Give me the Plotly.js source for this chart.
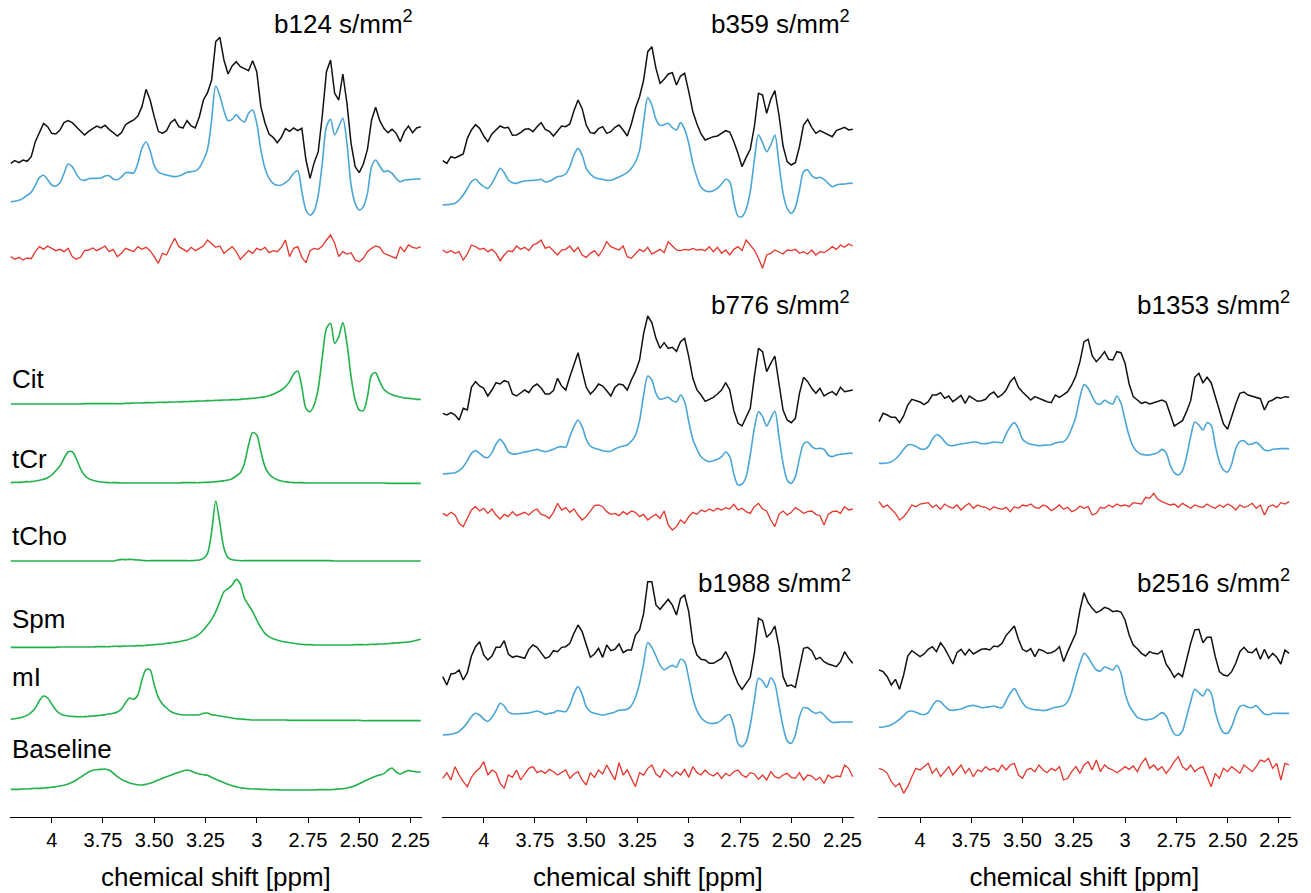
<!DOCTYPE html>
<html>
<head>
<meta charset="utf-8">
<script src="https://cdn.plot.ly/plotly-3.0.1.min.js"></script>
<style>html,body{margin:0;padding:0;background:#fff}#chart{width:1311px;height:893px}</style>
</head>
<body>
<div id="chart"></div>
<script>
// chemical shift grid [ppm]
const ppm = [4.2,4.18,4.16,4.14,4.12,4.1,4.08,4.06,4.04,4.02,
4,3.98,3.96,3.94,3.92,3.9,3.88,3.86,3.84,3.82,
3.8,3.78,3.76,3.74,3.72,3.7,3.68,3.66,3.64,3.62,
3.6,3.58,3.56,3.54,3.52,3.5,3.48,3.46,3.44,3.42,
3.4,3.38,3.36,3.34,3.32,3.3,3.28,3.26,3.24,3.22,
3.2,3.18,3.16,3.14,3.12,3.1,3.08,3.06,3.04,3.02,
3,2.98,2.96,2.94,2.92,2.9,2.88,2.86,2.84,2.82,
2.8,2.78,2.76,2.74,2.72,2.7,2.68,2.66,2.64,2.62,
2.6,2.58,2.56,2.54,2.52,2.5,2.48,2.46,2.44,2.42,
2.4,2.38,2.36,2.34,2.32,2.3,2.28,2.26,2.24,2.22,
2.2];

const tickVals = [4,3.75,3.5,3.25,3,2.75,2.5,2.25];
const tickText = ['4','3.75','3.50','3.25','3','2.75','2.50','2.25'];
const axisTitle = 'chemical shift [ppm]';

// ---- b124 ----
const b124_data = [50,58,52,60,56,70,115,145,170,160,
140,138,150,172,178,172,158,147,135,146,
154,162,156,164,152,142,132,142,166,174,
180,192,220,272,240,190,146,140,148,172,
182,160,156,178,162,156,190,240,262,300,
415,428,360,318,342,355,340,334,328,358,
325,220,172,138,128,112,128,154,146,156,
148,155,60,5,52,85,195,325,360,260,
240,318,230,110,40,22,48,92,180,218,
178,155,142,152,140,115,145,162,142,156,
160];
const b124_fit = [45,46,49,55,64,73,94,117,124,111,
95,92,102,130,158,150,128,112,109,114,
115,115,116,122,123,113,111,119,132,132,
131,160,205,224,198,153,134,128,125,122,
120,122,127,133,135,137,147,170,202,290,
392,363,318,288,292,306,292,284,310,320,
280,200,145,115,100,94,95,102,113,130,
138,75,20,5,17,65,162,270,292,245,
270,295,220,95,40,20,30,70,150,170,
152,135,138,130,115,105,110,111,112,113,
113];
const b124_res = [30,22,28,20,26,24,45,60,52,62,
55,48,52,45,55,30,22,28,48,50,
56,48,55,62,45,52,30,40,55,50,
45,60,52,58,48,30,10,40,35,62,
85,60,52,45,58,48,55,62,80,68,
58,62,40,50,60,45,22,35,48,40,
55,50,58,42,48,45,58,80,30,55,
60,28,12,48,55,52,62,80,95,70,
30,45,38,42,20,15,25,45,55,62,
58,40,35,30,25,60,45,65,58,55,
60];

// ---- b359 ----
const b359_data = [28,20,40,36,42,48,95,120,136,125,
102,85,108,120,132,126,128,104,105,112,
122,124,115,130,142,122,116,102,118,132,
130,138,178,210,184,135,112,110,124,130,
110,115,128,135,120,102,138,185,220,270,
355,370,305,260,272,288,292,255,282,290,
235,175,138,108,90,95,100,102,110,118,
114,85,50,10,38,62,130,230,225,170,
212,238,165,72,25,15,22,70,135,152,
128,110,118,112,105,100,118,122,128,120,
122];
const b359_fit = [45,46,47,50,60,75,95,115,122,110,
100,95,110,133,155,142,120,112,110,114,
117,118,119,120,122,114,116,123,130,132,
138,160,195,215,195,155,138,128,124,122,
119,119,124,129,135,142,155,174,208,295,
367,345,302,284,286,290,277,270,292,272,
230,170,128,98,88,85,88,95,108,122,
115,55,12,10,32,85,180,255,232,205,
225,255,170,80,35,20,38,90,145,150,
133,125,128,122,110,100,105,107,108,110,
110];
const b359_res = [60,52,58,50,55,30,48,75,70,62,
65,55,62,50,28,45,58,55,72,62,
68,58,75,80,90,65,70,58,45,60,
62,72,55,68,45,38,50,58,42,60,
85,70,65,60,72,40,35,50,62,55,
68,48,55,62,52,85,72,60,58,62,
60,65,60,62,58,70,55,68,50,60,
45,62,70,58,90,75,60,35,5,45,
50,60,55,48,60,58,62,50,55,48,
60,45,55,52,60,70,62,75,68,78,
72];

// ---- b776 ----
const b776_data = [45,40,47,40,25,60,55,123,140,127,
120,97,115,137,133,143,139,103,97,107,
115,107,125,133,121,103,103,113,150,127,
115,155,190,227,173,123,103,115,133,127,
113,97,123,133,130,115,145,170,205,285,
337,317,270,240,257,240,243,231,260,270,
215,150,115,100,81,87,93,103,115,137,
115,53,15,7,35,60,155,240,230,170,
195,217,135,55,25,17,30,105,153,140,
120,105,120,97,105,110,100,123,110,113,
115];
const b776_fit = [38,39,40,42,48,60,78,100,108,100,
90,87,102,128,142,128,105,98,98,101,
104,106,109,112,108,105,108,112,118,120,
118,150,180,200,180,142,122,115,112,108,
106,106,113,118,122,125,136,154,198,275,
332,320,280,262,265,268,258,254,275,255,
195,142,112,90,80,75,78,82,90,104,
90,38,5,8,30,95,175,225,210,182,
205,226,150,70,20,10,30,85,128,134,
120,114,115,112,95,90,95,97,99,100,
100];
const b776_res = [65,58,68,60,35,25,50,75,85,72,
80,65,78,60,48,62,55,70,58,62,
68,60,72,78,62,58,50,68,95,75,
82,68,78,60,45,55,72,88,90,85,
70,62,65,58,70,62,72,68,55,62,
45,55,62,50,72,30,15,25,45,35,
55,68,62,75,70,78,72,80,75,82,
78,92,75,80,70,65,85,95,78,72,
45,25,62,72,60,68,82,75,65,70,
72,62,58,30,62,70,72,65,85,75,
78];

// ---- b1353 ----
const b1353_data = [30,55,50,43,43,27,47,80,97,93,
89,81,90,110,110,117,100,107,90,99,
109,85,107,99,91,93,97,112,119,103,
111,125,150,163,133,119,107,95,105,99,
95,90,87,110,103,111,120,140,167,210,
270,277,227,210,223,240,217,215,240,237,
205,143,105,95,85,89,83,87,90,95,
89,50,17,25,33,60,93,163,175,147,
163,147,105,65,23,7,47,83,115,119,
110,107,103,99,65,90,95,103,100,105,
103];
const b1353_fit = [40,40,41,45,53,66,82,95,96,91,
84,82,90,112,126,120,105,94,93,96,
98,100,102,104,103,99,99,101,104,103,
102,128,150,162,144,112,102,97,95,93,
94,95,96,101,104,105,118,145,180,238,
276,265,240,220,218,229,222,218,242,220,
170,122,90,74,67,65,65,68,72,82,
72,35,12,5,18,60,120,164,155,140,
162,154,95,45,20,14,38,85,105,108,
97,98,103,93,80,78,82,83,84,84,
84];
const b1353_res = [65,48,55,42,30,10,20,35,55,50,
58,60,62,48,55,42,58,50,45,55,
40,52,60,45,55,50,48,40,50,45,
42,48,35,50,45,55,52,58,48,45,
55,50,38,45,55,42,48,35,40,52,
45,50,25,30,48,45,55,48,58,52,
55,50,62,60,58,78,75,90,72,65,
60,55,58,48,60,52,45,55,50,48,
58,50,45,55,48,58,52,40,55,48,
52,60,45,55,25,50,55,48,62,58,
65];

// ---- b1988 ----
const b1988_data = [45,20,53,55,65,35,57,107,135,150,
110,95,107,133,133,153,113,103,107,103,
100,127,140,133,115,100,105,123,120,133,
135,145,175,200,180,140,103,113,130,103,
140,123,127,143,117,125,125,170,185,235,
330,330,260,247,261,277,260,230,280,290,
240,147,110,97,95,85,85,93,100,120,
95,55,25,7,27,43,115,220,213,163,
175,197,135,45,17,20,13,75,130,133,
123,97,103,90,83,79,75,90,120,100,
85];
const b1988_fit = [40,41,42,45,51,62,77,95,105,100,
88,81,93,113,135,127,109,104,103,104,
105,106,109,112,108,102,105,107,113,111,
110,130,165,185,162,125,110,105,102,100,
102,105,109,114,115,117,128,153,195,255,
317,303,277,250,235,243,249,243,267,260,
210,150,113,92,81,75,75,77,85,97,
101,67,15,5,20,70,145,210,202,183,
211,193,130,65,23,15,40,95,122,120,
111,105,109,100,87,78,78,79,79,79,
79];
const b1988_res = [45,62,40,80,55,35,20,48,65,75,
95,55,70,62,30,15,55,48,70,40,
58,75,80,62,68,60,72,65,55,62,
70,45,58,65,40,25,62,48,70,58,
85,62,40,92,55,70,45,20,62,55,
75,85,58,48,72,60,50,65,55,72,
48,80,62,55,70,58,52,62,45,60,
52,65,70,55,48,62,58,42,55,40,
65,50,45,55,60,48,45,62,40,55,
52,40,48,30,55,45,52,50,85,75,
50];

// ---- b2516 ----
const b2516_data = [65,60,45,20,37,7,50,107,123,113,
105,113,127,135,120,147,130,107,83,117,
127,110,127,113,119,127,129,125,137,135,
145,169,183,197,157,127,120,129,105,127,
123,115,117,123,135,90,120,145,175,245,
297,267,250,237,243,253,249,240,243,239,
215,170,140,129,115,107,120,115,113,123,
83,65,43,55,45,95,145,185,187,147,
163,163,105,60,50,47,60,85,120,133,
119,117,129,97,127,100,115,103,83,125,
115];
const b2516_fit = [28,29,31,36,43,52,63,75,77,73,
68,66,72,92,107,105,92,81,79,81,
83,88,92,94,91,87,88,90,92,88,
87,108,130,144,124,102,88,84,81,80,
78,80,84,88,90,93,105,135,180,220,
250,238,217,200,197,209,205,200,214,190,
130,94,74,58,53,50,52,55,64,72,
63,33,8,4,17,60,105,142,132,122,
142,130,75,35,12,10,30,65,90,94,
88,87,93,80,68,66,70,70,70,70,
70];
const b2516_res = [85,80,70,45,30,40,10,30,60,85,
80,90,100,70,85,60,75,90,65,80,
95,70,85,60,80,75,90,80,85,75,
95,80,95,100,65,55,80,85,75,95,
80,72,85,78,90,50,55,75,90,70,
95,105,80,110,75,95,85,80,72,80,
90,82,92,75,100,115,85,95,80,90,
70,85,105,120,90,80,95,75,85,90,
60,30,70,55,85,75,90,80,70,95,
85,75,90,110,105,115,85,100,50,100,
95];

// ---- basis functions ----
const basisNames = ['Cit','tCr','tCho','Spm','mI','Baseline'];
const cit = [28,28,28,28,28,28,28,28,28,28,
28,28,28,28,28,28,28,28,29,29,
29,29,29,29,29,29,29,29,30,30,
31,31,31,32,32,32,33,33,33,34,
34,34,35,35,36,36,37,37,38,38,
39,39,40,40,41,41,42,43,44,45,
46,48,50,53,57,63,70,80,95,118,
127,78,15,5,25,75,170,255,270,210,
230,272,210,110,40,10,8,50,115,122,
95,72,62,56,52,49,46,45,44,42,
42];
const tcr = [2,3,3,4,5,5,7,9,12,17,
25,38,52,75,94,95,74,44,24,14,
9,6,4,3,2,2,2,1,1,1,
1,1,1,1,1,1,1,1,1,1,
1,1,2,2,2,2,2,3,3,4,
5,6,8,10,14,22,32,60,115,152,
145,95,50,28,17,11,7,5,3,2,
2,2,1,1,1,1,1,1,1,1,
1,1,1,1,1,1,1,1,1,1,
1,1,0,0,0,0,0,0,0,0,
0];
const tcho = [2,2,2,2,2,2,2,2,2,2,
2,2,2,2,2,2,2,2,2,2,
2,2,2,2,2,2,5,7,6,7,
6,5,4,3,3,3,3,3,3,3,
3,3,3,3,3,4,5,10,25,90,
182,115,40,12,6,4,3,3,3,3,
3,3,3,3,3,3,3,3,3,3,
3,3,3,3,3,3,3,3,3,2,
2,2,2,2,2,2,2,2,2,2,
2,2,2,2,2,2,2,2,2,2,
2];
const spm = [3,3,3,3,3,3,3,3,3,3,
3,3,4,4,4,4,4,4,4,4,
4,5,5,5,5,6,6,6,7,7,
7,8,8,9,10,11,12,13,15,16,
18,20,23,25,30,35,43,55,70,87,
110,140,170,179,190,207,193,150,130,110,
85,62,45,35,29,25,21,19,17,15,
13,12,11,11,10,10,10,10,10,10,
10,10,10,10,11,11,11,11,12,12,
13,13,14,15,16,17,18,19,21,24,
27];
const mi = [7,9,11,14,19,28,41,63,77,71,
53,35,24,19,17,16,15,15,15,16,
17,18,19,21,23,25,29,38,57,71,
67,80,125,157,155,110,73,53,41,31,
25,22,20,20,20,20,21,25,26,21,
19,17,15,13,11,9,8,7,6,5,
5,5,5,5,5,5,5,5,4,4,
4,4,4,4,4,4,4,4,4,4,
4,4,4,4,4,4,3,3,3,3,
3,3,3,3,3,3,3,3,3,3,
3];
const baseline = [4,4,4,5,5,6,7,7,8,9,
10,12,14,16,20,25,32,40,48,56,
61,63,64,65,61,53,42,34,28,23,
20,18,17,19,22,27,32,37,42,46,
51,55,59,62,59,54,50,48,46,40,
34,29,24,19,15,12,9,7,6,5,
5,4,4,3,3,3,2,2,2,2,
2,2,2,2,2,3,3,3,3,4,
5,6,8,11,15,21,27,33,38,43,
47,51,62,68,56,50,56,60,58,56,
56];

// ---------------- drawing ----------------
const C = {data:'#111111', fit:'#4aa6d8', res:'#e8352b', basis:'#22b24c'};
const traces = [];
function add(xa, vals, off, color, width, smooth){
  traces.push({
    type:'scatter', mode:'lines', x:ppm, y:vals.map(v => v + off),
    xaxis:xa, yaxis:'y', hoverinfo:'skip', showlegend:false,
    line:{color:color, width:width, shape: smooth ? 'spline' : 'linear', smoothing:0.8}
  });
}
function panel(xa, d, f, r, offs){
  add(xa, d, offs[0], C.data, 1.5, false);
  add(xa, f, offs[1], C.fit, 1.6, true);
  add(xa, r, offs[2], C.res, 1.3, false);
}
panel('x',  b124_data,  b124_fit,  b124_res,  [1911,1801,1651]);
panel('x2', b359_data,  b359_fit,  b359_res,  [1941,1791,1641]);
panel('x2', b776_data,  b776_fit,  b776_res,  [1166,991,846]);
panel('x2', b1988_data, b1988_fit, b1988_res, [376,206,71]);
panel('x3', b1353_data, b1353_fit, b1353_res, [1156,1021,881]);
panel('x3', b2516_data, b2516_fit, b2516_res, [376,241,61]);
const basisSets = [cit, tcr, tcho, spm, mi, baseline];
const basisOff = [1211,1001,766,506,286,79];
basisSets.forEach((b,k) => add('x', b, basisOff[k], C.basis, 1.6, true));

const FONT = 'Liberation Sans, Arial, Helvetica, sans-serif';
function xax(dom){
  return {
    domain:dom, range:[4.205,2.193], anchor:'y',
    showline:true, linecolor:'#000', linewidth:1,
    ticks:'outside', ticklen:5, tickwidth:1, tickcolor:'#000',
    tickvals:tickVals, ticktext:tickText,
    tickfont:{family:FONT, size:20, color:'#000'},
    showgrid:false, zeroline:false, automargin:false,
    title:{text:axisTitle, font:{family:FONT, size:26, color:'#000'}, standoff:17}
  };
}
const W = 1311;
const panelTitles = [
  {t:'b124 s/mm<sup>2</sup>', x:415, y:22},
  {t:'b359 s/mm<sup>2</sup>', x:852, y:22},
  {t:'b776 s/mm<sup>2</sup>', x:852, y:303},
  {t:'b1353 s/mm<sup>2</sup>', x:1292, y:303},
  {t:'b1988 s/mm<sup>2</sup>', x:853, y:581},
  {t:'b2516 s/mm<sup>2</sup>', x:1292, y:581}
];
const basisLabelY = [379,459,536,619,677,749];
const PH = 817;
const annotations = [];
panelTitles.forEach(p => annotations.push({
  xref:'paper', yref:'paper', x:p.x/W, y:(PH-p.y)/PH, xanchor:'right', yanchor:'middle',
  text:p.t, showarrow:false, font:{family:FONT, size:26, color:'#000'}
}));
basisNames.forEach((n,k) => annotations.push({
  xref:'paper', yref:'paper', x:10/W, y:(PH-basisLabelY[k])/PH, xanchor:'left', yanchor:'middle',
  text:n, showarrow:false, font:{family:FONT, size:26, color:'#000'}
}));

const layout = {
  width:1311, height:893,
  margin:{l:0, r:0, t:0, b:76},
  paper_bgcolor:'#fff', plot_bgcolor:'#fff',
  showlegend:false,
  xaxis: xax([9.7/W, 422.2/W]),
  xaxis2: xax([441.7/W, 854.2/W]),
  xaxis3: xax([878/W, 1290.5/W]),
  yaxis:{domain:[0,1], range:[0,2451], visible:false, fixedrange:true},
  annotations:annotations,
  font:{family:FONT}
};
Plotly.newPlot('chart', traces, layout, {staticPlot:true, displayModeBar:false});
</script>
</body>
</html>
